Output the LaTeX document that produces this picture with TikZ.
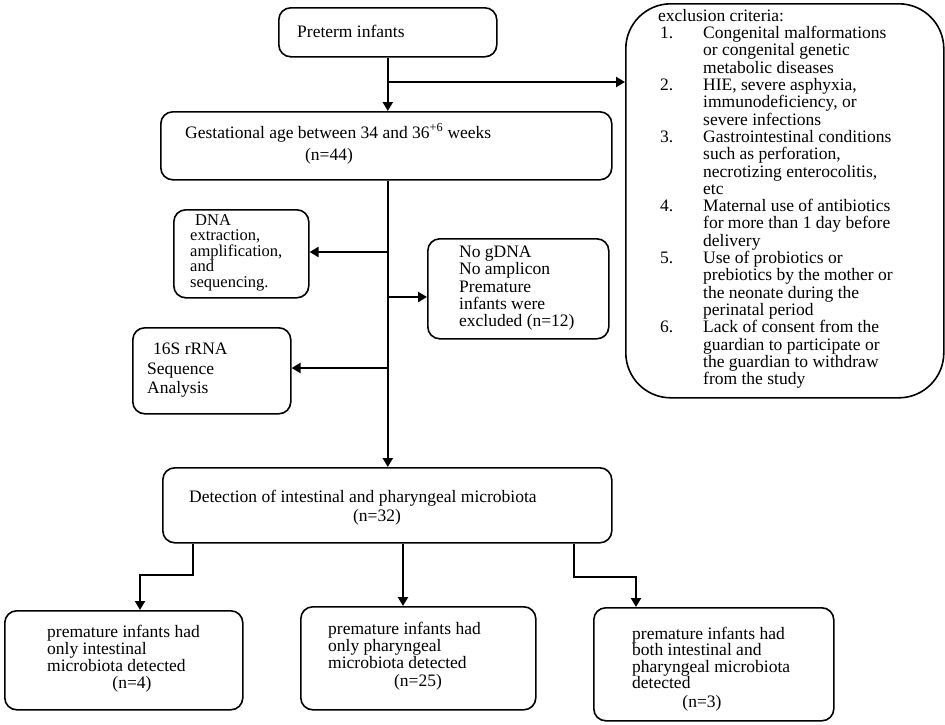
\documentclass[tikz,border=0pt]{standalone}
\usepackage{fontspec}
\setmainfont{Liberation Serif}
\usetikzlibrary{arrows.meta}
\newcommand{\tightlines}{\lineskiplimit=-20pt\relax}
\begin{document}
\begin{tikzpicture}[x=1pt,y=-1pt,
  box/.style={draw, line width=1.6pt, rounded corners=12pt, anchor=north west, inner sep=0pt},
  txt/.style={inner sep=0pt, align=left, anchor=north west, font=\fontsize{17.5}{17.3}\selectfont},
  ln/.style={line width=2.4pt},
  arr/.style={ln, -{Triangle[length=9pt,width=10pt]}}]
\useasboundingbox (0,0) rectangle (945,724);
\fill[white] (0,0) rectangle (945,724);

% boxes
\node[box, minimum width=218pt, minimum height=49pt] (pre) at (278,7) {};
\node[box, minimum width=451pt, minimum height=68pt] (ges) at (160,111) {};
\node[box, rounded corners=45pt, minimum width=318pt, minimum height=394pt] (exc) at (625,3) {};
\node[box, minimum width=135pt, minimum height=88pt] (dna) at (173,209) {};
\node[box, minimum width=181pt, minimum height=100pt] (nog) at (427,238) {};
\node[box, minimum width=158pt, minimum height=86pt] (s16) at (132,327) {};
\node[box, minimum width=449pt, minimum height=75pt] (det) at (162,467) {};
\node[box, minimum width=238pt, minimum height=99pt] (b1) at (4,610) {};
\node[box, minimum width=235pt, minimum height=103pt] (b2) at (300,606) {};
\node[box, minimum width=240pt, minimum height=113pt] (b3) at (593,607) {};

% texts
\node[txt, anchor=base west] (tpre) at (297,37) {Preterm infants};
\node[txt, anchor=base west] (tges) at (185,138) {Gestational age between 34 and 36\textsuperscript{+6} weeks};
\node[txt, anchor=base] (nges) at (329,160) {(n=44)};
\node[txt, font=\fontsize{17.5}{17.3}\selectfont\tightlines] (texc) at (658,9) {exclusion criteria:\\
\makebox[45pt][l]{\hspace*{2pt}1.}Congenital malformations\\
\hspace*{45pt}or congenital genetic\\
\hspace*{45pt}metabolic diseases\\
\makebox[45pt][l]{\hspace*{2pt}2.}HIE, severe asphyxia,\\
\hspace*{45pt}immunodeficiency, or\\
\hspace*{45pt}severe infections\\
\makebox[45pt][l]{\hspace*{2pt}3.}Gastrointestinal conditions\\
\hspace*{45pt}such as perforation,\\
\hspace*{45pt}necrotizing enterocolitis,\\
\hspace*{45pt}etc\\
\makebox[45pt][l]{\hspace*{2pt}4.}Maternal use of antibiotics\\
\hspace*{45pt}for more than 1 day before\\
\hspace*{45pt}delivery\\
\makebox[45pt][l]{\hspace*{2pt}5.}Use of probiotics or\\
\hspace*{45pt}prebiotics by the mother or\\
\hspace*{45pt}the neonate during the\\
\hspace*{45pt}perinatal period\\
\makebox[45pt][l]{\hspace*{2pt}6.}Lack of consent from the\\
\hspace*{45pt}guardian to participate or\\
\hspace*{45pt}the guardian to withdraw\\
\hspace*{45pt}from the study};
\node[txt, font=\fontsize{16.5}{15.6}\selectfont] (tdna) at (190,214) {\hspace*{5pt}DNA\\extraction,\\amplification,\\and\\sequencing.};
\node[txt, font=\fontsize{17.5}{17.2}\selectfont] (tnog) at (459,246) {No gDNA\\No amplicon\\Premature\\infants were\\excluded (n=12)};
\node[txt, font=\fontsize{17.5}{19.5}\selectfont] (ts16) at (147,343) {\hspace*{6pt}16S rRNA\\Sequence\\Analysis};
\node[txt, anchor=base west] (tdet) at (189,502) {Detection of intestinal and pharyngeal microbiota};
\node[txt, anchor=base] (ndet) at (377,521) {(n=32)};
\node[txt, font=\fontsize{17.5}{17}\selectfont] (tb1) at (47,625) {premature infants had\\only intestinal\\microbiota detected};
\node[txt, anchor=base] (nb1) at (132,688) {(n=4)};
\node[txt, font=\fontsize{17.5}{17}\selectfont] (tb2) at (328,622) {premature infants had\\only pharyngeal\\microbiota detected};
\node[txt, anchor=base] (nb2) at (418,686) {(n=25)};
\node[txt, font=\fontsize{17.5}{16.3}\selectfont\tightlines] (tb3) at (632,627) {premature infants had\\both intestinal and\\pharyngeal microbiota\\detected};
\node[txt, anchor=base] (nb3) at (702,707) {(n=3)};

% connectors
\coordinate (br) at (387,82);
\coordinate (c1) at (387,252);
\coordinate (c2) at (387,297);
\coordinate (c3) at (387,368);
\coordinate (d1) at (193,575);
\coordinate (e1) at (140,575);
\coordinate (d2) at (403,575);
\coordinate (d3) at (574,577);
\coordinate (e3) at (636,577);

\draw[arr] (pre.south) -- (pre.south |- ges.north);
\draw[arr] (br) -- (br -| exc.west);
\draw[arr] (pre.south |- ges.south) -- (pre.south |- det.north);
\draw[arr] (c1) -- (c1 -| dna.east);
\draw[arr] (c2) -- (c2 -| nog.west);
\draw[arr] (c3) -- (c3 -| s16.east);
\draw[arr] (d1 |- det.south) -- (d1) -- (e1) -- (e1 |- b1.north);
\draw[arr] (d2 |- det.south) -- (d2 |- b2.north);
\draw[arr] (d3 |- det.south) -- (d3) -- (e3) -- (e3 |- b3.north);
\end{tikzpicture}
\end{document}
